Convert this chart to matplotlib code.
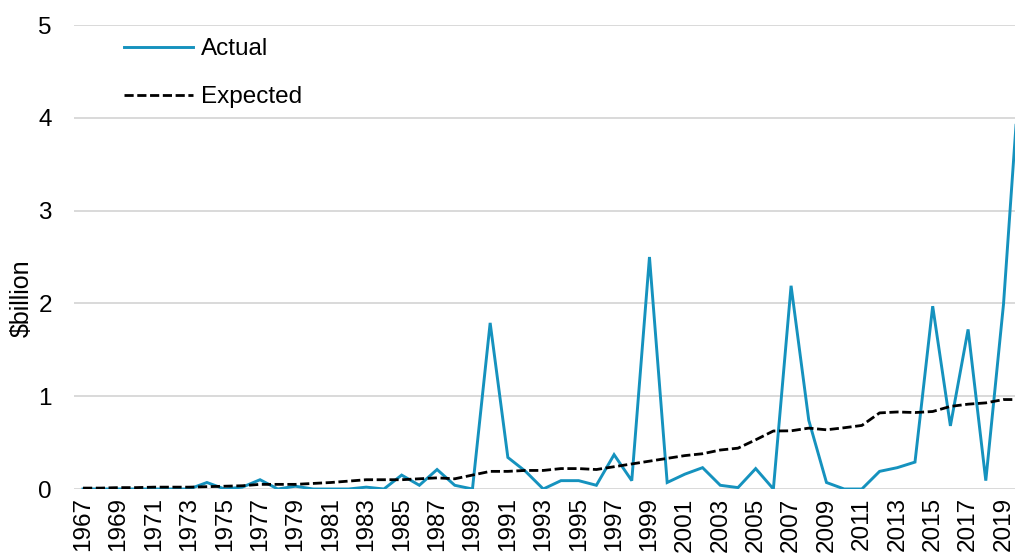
import matplotlib
matplotlib.use("Agg")
import matplotlib.pyplot as plt

years = list(range(1967, 2021))

# actual vs expected, $billion per year
actual = [0.00, 0.00, 0.00, 0.00, 0.00, 0.00, 0.00, 0.07, 0.00, 0.02,
          0.10, 0.00, 0.03, 0.00, 0.00, 0.00, 0.02, 0.00, 0.15, 0.04,
          0.21, 0.04, 0.00, 1.79, 0.34, 0.19, 0.00, 0.09, 0.09, 0.04,
          0.37, 0.09, 2.50, 0.07, 0.16, 0.23, 0.04, 0.015, 0.22, 0.00,
          2.19, 0.74, 0.07, 0.00, 0.00, 0.19, 0.23, 0.29, 1.97, 0.68,
          1.72, 0.09, 1.99, 4.72]
expected = [0.01, 0.01, 0.015, 0.015, 0.02, 0.02, 0.02, 0.025, 0.03, 0.035,
            0.05, 0.05, 0.05, 0.06, 0.07, 0.085, 0.10, 0.10, 0.10, 0.11,
            0.12, 0.11, 0.15, 0.19, 0.19, 0.20, 0.20, 0.22, 0.22, 0.21,
            0.24, 0.27, 0.30, 0.33, 0.36, 0.38, 0.42, 0.44, 0.53, 0.625,
            0.627, 0.656, 0.638, 0.66, 0.685, 0.82, 0.83, 0.824, 0.835, 0.89,
            0.914, 0.928, 0.964, 0.964]
tick_years = list(range(1967, 2020, 2))

plt.rcParams['font.family'] = ['Liberation Sans', 'DejaVu Sans']
FS = 17.5

fig = plt.figure(figsize=(10.15, 5.54), dpi=100)
ax = fig.add_axes([74 / 1015, 65 / 554, 941 / 1015, 464 / 554])

ax.plot(years, actual, color='#1592BE', lw=2.1, label='Actual', solid_joinstyle='miter')
ax.plot(years, expected, color='black', lw=2.0, ls=(0, (3.3, 1.3)), label='Expected')

ax.set_xlim(1966.49, 2019.65)
ax.set_ylim(0, 5)
ax.set_yticks([0, 1, 2, 3, 4, 5])
ax.set_xticks(tick_years)
ax.set_xticklabels([str(y) for y in tick_years], rotation=90, va='top', ha='center')
ax.tick_params(axis='both', length=0, labelsize=FS)
ax.tick_params(axis='y', pad=16)
ax.tick_params(axis='x', pad=6)

ax.grid(axis='y', color='#d9d9d9', lw=1.4)
ax.set_axisbelow(True)
for s in ax.spines.values():
    s.set_visible(False)

fig.text(22 / 1015, 1 - 298 / 554, '$billion', rotation=90, ha='center', va='center', fontsize=18)

ax.legend(loc='upper left', bbox_to_anchor=(124 / 1015, 1 - 38 / 554), bbox_transform=fig.transFigure,
          frameon=False, fontsize=FS, borderpad=0, borderaxespad=0,
          handlelength=2.85, handletextpad=0.33, labelspacing=1.08)

fig.savefig('out.png', dpi=100)
